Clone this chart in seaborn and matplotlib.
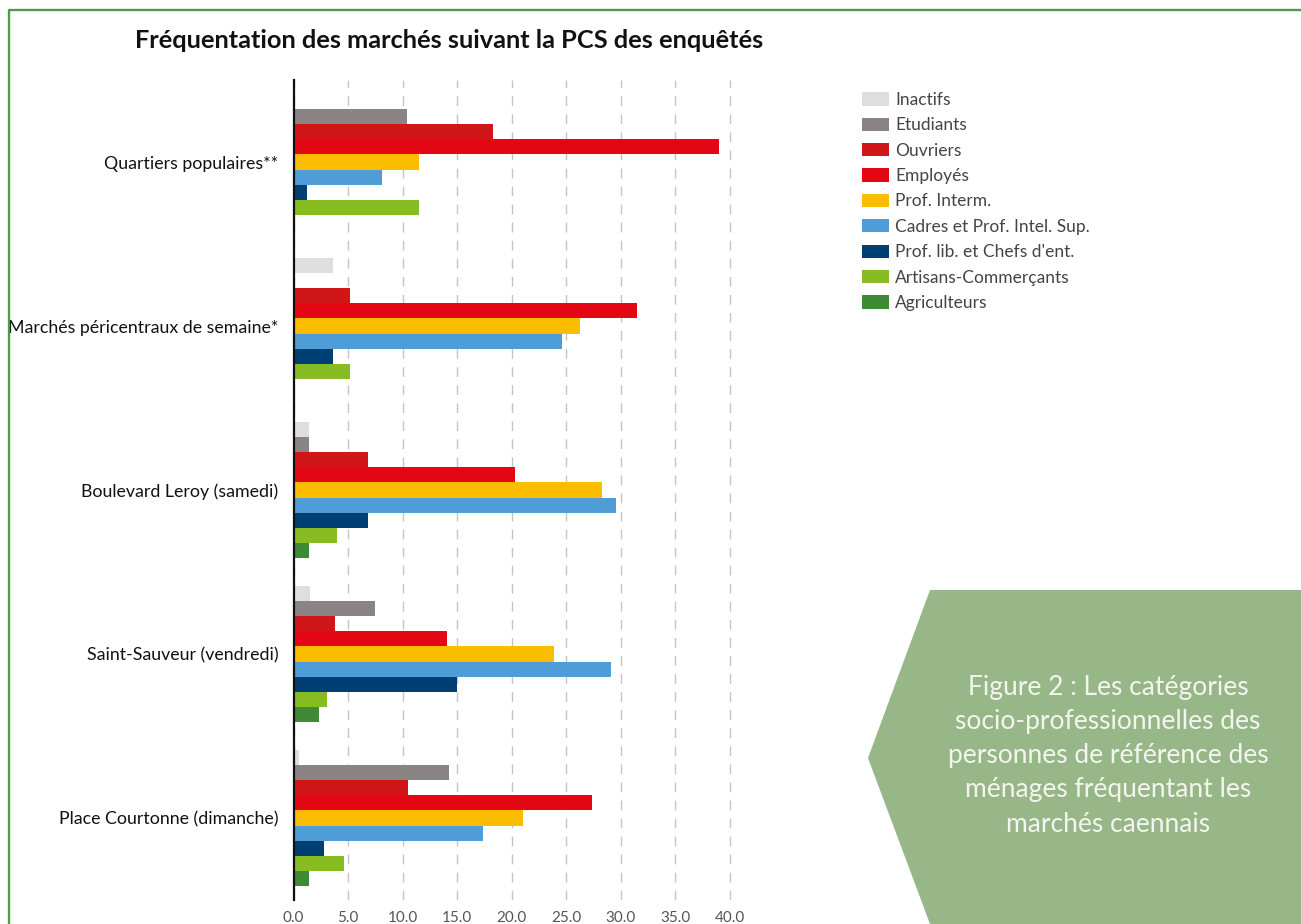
import pandas as pd
import seaborn as sns
import matplotlib.pyplot as plt
from matplotlib.patches import Polygon
from matplotlib.lines import Line2D

markets = [
    "Quartiers populaires**",
    "Marchés péricentraux de semaine*",
    "Boulevard Leroy (samedi)",
    "Saint-Sauveur (vendredi)",
    "Place Courtonne (dimanche)",
]
categories = [
    "Inactifs", "Etudiants", "Ouvriers", "Employés", "Prof. Interm.",
    "Cadres et Prof. Intel. Sup.", "Prof. lib. et Chefs d'ent.",
    "Artisans-Commerçants", "Agriculteurs",
]
inactifs = [0.0, 3.6, 1.4, 1.5, 0.5]
etudiants = [10.4, 0.0, 1.4, 7.5, 14.3]
ouvriers = [18.3, 5.2, 6.8, 3.8, 10.5]
employes = [39.0, 31.5, 20.3, 14.1, 27.4]
prof_interm = [11.5, 26.3, 28.3, 23.9, 21.1]
cadres = [8.1, 24.6, 29.6, 29.1, 17.4]
prof_lib = [1.2, 3.6, 6.8, 15.0, 2.8]
artisans = [11.5, 5.2, 4.0, 3.1, 4.6]
agriculteurs = [0.0, 0.0, 1.4, 2.3, 1.4]
xticks = [0, 5, 10, 15, 20, 25, 30, 35, 40]

colors = ["#dedede", "#8a8584", "#cf1719", "#e30613", "#fbbd00",
          "#4f9dd8", "#003f72", "#87bd23", "#3f8a36"]

series = [inactifs, etudiants, ouvriers, employes, prof_interm,
          cadres, prof_lib, artisans, agriculteurs]
rows = []
for cat, vals in zip(categories, series):
    for m, v in zip(markets, vals):
        rows.append({"marche": m, "PCS": cat, "pct": v})
df = pd.DataFrame(rows)

sns.set_theme(style="white")
plt.rcParams["font.family"] = ["Lato", "DejaVu Sans"]

W, H = 1301, 924
fig = plt.figure(figsize=(W / 100, H / 100), dpi=100)
ax = fig.add_axes([293.5 / W, 1 - 900 / H, (740.4 - 293.5) / W, 820 / H])

sns.barplot(
    data=df, y="marche", x="pct", hue="PCS", orient="h",
    order=markets, hue_order=categories, palette=colors,
    width=0.83, saturation=1, errorbar=None, linewidth=0, ax=ax,
)

ax.set_xlim(0, 41)
ax.set_xticks(xticks)
ax.set_xticklabels([f"{t:.1f}" for t in xticks])
ax.set_xlabel("")
ax.set_ylabel("")
ax.set_axisbelow(True)
ax.xaxis.grid(True, linestyle=(0, (7, 6)), color="#c4c4c4", linewidth=1)
ax.yaxis.grid(False)
for side in ["top", "right", "bottom"]:
    ax.spines[side].set_visible(False)
ax.spines["left"].set_color("#111111")
ax.spines["left"].set_linewidth(1.6)
ax.tick_params(axis="y", length=0, pad=11, labelsize=12.8, labelcolor="#111111")
ax.tick_params(axis="x", length=0, pad=8, labelsize=11, labelcolor="#555555")

# legend
handles, labels = ax.get_legend_handles_labels()
for h in handles:
    h.set_linewidth(0)
ax.legend(
    handles, labels, loc="upper left",
    bbox_to_anchor=(855 / W, 1 - 85 / H), bbox_transform=fig.transFigure,
    frameon=False, fontsize=12.5, labelcolor="#444444",
    handlelength=1.55, handleheight=0.8, handletextpad=0.35,
    labelspacing=0.54, borderaxespad=0,
)

# title
fig.text(449 / W, 1 - 40 / H, "Fréquentation des marchés suivant la PCS des enquêtés",
         ha="center", va="center", fontsize=18.3, fontweight="bold", color="#111111")

# green frame
fig.add_artist(Line2D([8.5 / W, 8.5 / W, 1.0], [0.0, 1 - 9.5 / H, 1 - 9.5 / H],
                      transform=fig.transFigure, color="#4e9a4e", linewidth=1.7))

# caption shape
pts = [(930, 590), (W, 590), (W, H), (930, H), (868, 758)]
fig.add_artist(Polygon([(x / W, 1 - y / H) for x, y in pts], closed=True,
                       transform=fig.transFigure, facecolor="#98b788", edgecolor="none"))
caption = [
    "Figure 2 : Les catégories",
    "socio-professionnelles des",
    "personnes de référence des",
    "ménages fréquentant les",
    "marchés caennais",
]
for i, line in enumerate(caption):
    fig.text(1108 / W, 1 - (687 + i * 34.3) / H, line, ha="center", va="center",
             fontsize=19, color="#f3f5ef")

plt.savefig("out.png", dpi=100)
